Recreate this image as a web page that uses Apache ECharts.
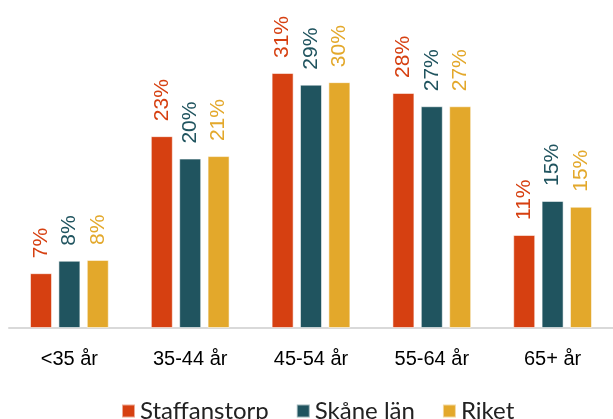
<!DOCTYPE html>
<html>
<head>
<meta charset="utf-8">
<script src="https://cdn.jsdelivr.net/npm/echarts@6/dist/echarts.min.js"></script>
<style>
    html, body {margin: 0; padding: 0; background: #fff;}
    #main {width: 613px; height: 419px;}
</style>
</head>
<body>
<div id="main"></div>
<script>
// åldersgrupper
const categories = ['<35 år', '35-44 år', '45-54 år', '55-64 år', '65+ år'];
const seriesNames = ['Staffanstorp', 'Skåne län', 'Riket'];
// andel i procent
const staffanstorp = [6.6, 23.1, 30.7, 28.3, 11.2];
const skane = [8.1, 20.4, 29.3, 26.7, 15.3];
const riket = [8.2, 20.7, 29.6, 26.7, 14.6];
const colors = ['#D64011', '#20545F', '#E3A82B'];

const chart = echarts.init(document.getElementById('main'));

const makeSeries = (name, data, color) => ({
    name: name,
    type: 'bar',
    data: data,
    barWidth: 22,
    barGap: '29%',
    itemStyle: {
        color: color,
        borderColor: 'rgba(255,255,255,0.55)',
        borderWidth: 1
    },
    label: {
        show: true,
        position: 'top',
        rotate: 90,
        align: 'left',
        verticalAlign: 'middle',
        distance: 15,
        color: color,
        fontFamily: 'Liberation Sans, Arial, sans-serif',
        fontSize: 21,
        formatter: p => Math.round(p.value) + '%'
    }
});

const option = {
    animation: false,
    grid: {left: 9, right: -6, top: 29, bottom: 91},
    legend: {
        left: 116,
        top: 394,
        itemWidth: 13,
        itemHeight: 13,
        itemGap: 27,
        icon: 'rect',
        textStyle: {
            fontFamily: 'Lato, sans-serif',
            fontSize: 24,
            color: '#222'
        },
        data: seriesNames
    },
    xAxis: {
        type: 'category',
        data: categories,
        axisLine: {lineStyle: {color: '#D9D9D9', width: 2}},
        axisTick: {show: false},
        axisLabel: {
            margin: 21,
            color: '#000',
            fontFamily: 'Liberation Sans, Arial, sans-serif',
            fontSize: 20
        }
    },
    yAxis: {
        type: 'value',
        min: 0,
        max: 36,
        show: false,
        splitLine: {show: false}
    },
    series: [
        makeSeries(seriesNames[0], staffanstorp, colors[0]),
        makeSeries(seriesNames[1], skane, colors[1]),
        makeSeries(seriesNames[2], riket, colors[2])
    ]
};

chart.setOption(option);
</script>
</body>
</html>
